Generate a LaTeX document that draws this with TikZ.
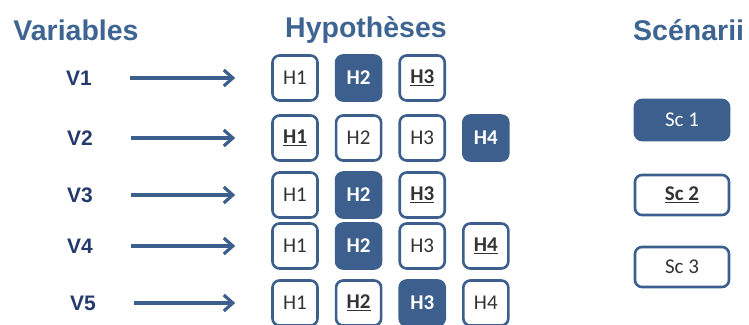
\documentclass[tikz,border=0pt]{standalone}
\usepackage{fontspec}
\setmainfont{Liberation Sans}
\newfontfamily\boxfont{Carlito}
\usetikzlibrary{arrows.meta,positioning}
\definecolor{steel}{RGB}{62,100,145}
\definecolor{deepnavy}{RGB}{36,58,108}
\definecolor{boxblue}{RGB}{60,95,142}

\begin{document}
\begin{tikzpicture}[x=1pt,y=-1pt,>={Straight Barb[length=9pt,width=16pt]},node distance=16pt]
  \tikzset{
    head/.style={font=\fontsize{28.5}{30}\selectfont\bfseries,text=steel},
    var/.style={font=\fontsize{21}{23}\selectfont\bfseries,text=deepnavy},
    hyp/.style={draw=boxblue,line width=2.6pt,rounded corners=7pt,fill=white,
                minimum width=45pt,minimum height=45pt,inner sep=0pt,
                font=\boxfont\fontsize{21}{23}\selectfont,text=black!80},
    hypon/.style={hyp,fill=boxblue,text=white,font=\boxfont\bfseries\fontsize{21}{23}\selectfont},
    sc/.style={hyp,minimum width=94pt,minimum height=40pt,font=\boxfont\fontsize{21}{23}\selectfont},
    scon/.style={hypon,minimum width=94pt,minimum height=40pt,font=\boxfont\fontsize{21}{23}\selectfont},
    arr/.style={->,draw=boxblue,line width=3.2pt,shorten <=35pt,shorten >=36pt}
  }
  \useasboundingbox (0,0) rectangle (749,324);
  % column titles
  \node[head] (tvar) at (76,30) {Variables};
  \node[head] (thyp) at (366,30) {Hypothèses};
  \node[head,anchor=west,inner xsep=0pt] (tsc) at (633,30) {Scénarii};
  % variables
  \node[var] (v1) at (79,78) {V1};
  \node[var] (v2) at (80,138) {V2};
  \node[var] (v3) at (80,195) {V3};
  \node[var] (v4) at (80,246) {V4};
  \node[var] (v5) at (83,303) {V5};
  % hypotheses
  \node[hyp] (h11) at (295,78) {H1};
  \node[hypon,right=of h11] (h12) {H2};
  \node[hyp,right=of h12] (h13) {\underline{\textbf{H3}}};
  \node[hyp] (h21) at (295,138) {\underline{\textbf{H1}}};
  \node[hyp,right=of h21] (h22) {H2};
  \node[hyp,right=of h22] (h23) {H3};
  \node[hypon,right=of h23] (h24) {H4};
  \node[hyp] (h31) at (295,195) {H1};
  \node[hypon,right=of h31] (h32) {H2};
  \node[hyp,right=of h32] (h33) {\underline{\textbf{H3}}};
  \node[hyp] (h41) at (295,246) {H1};
  \node[hypon,right=of h41] (h42) {H2};
  \node[hyp,right=of h42] (h43) {H3};
  \node[hyp,right=of h43] (h44) {\underline{\textbf{H4}}};
  \node[hyp] (h51) at (295,303) {H1};
  \node[hyp,right=of h51] (h52) {\underline{\textbf{H2}}};
  \node[hypon,right=of h52] (h53) {H3};
  \node[hyp,right=of h53] (h54) {H4};
  % scenarii
  \node[scon] (s1) at (682,120) {Sc 1};
  \node[sc] (s2) at (682,195) {\underline{\textbf{Sc 2}}};
  \node[sc] (s3) at (682,267) {Sc 3};
  % arrows
  \draw[arr] (v1.east) -- (h11.west);
  \draw[arr] (v2.east) -- (h21.west);
  \draw[arr] (v3.east) -- (h31.west);
  \draw[arr] (v4.east) -- (h41.west);
  \draw[arr] (v5.east) -- (h51.west);
\end{tikzpicture}
\end{document}
